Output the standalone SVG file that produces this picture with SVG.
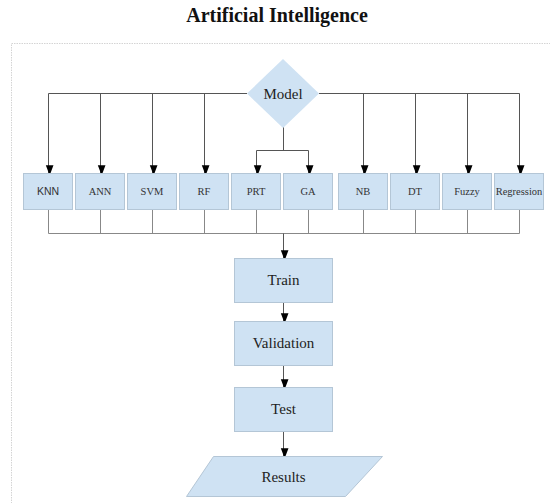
<svg xmlns="http://www.w3.org/2000/svg" width="550" height="503" viewBox="0 0 550 503">
<defs>
<marker id="ah" markerWidth="10" markerHeight="13" refX="10" refY="6.5" orient="auto" markerUnits="userSpaceOnUse" viewBox="0 0 13 10">
<path d="M0,0 L13,5 L0,10 Z" fill="#000"/>
</marker>
<style>
.frame{fill:none;stroke:#d4d4d4;stroke-width:1;stroke-dasharray:1.5 1}
.node{fill:#cfe2f3;stroke:#b4c6d6;stroke-width:1}
.top{fill:none;stroke:#555;stroke-width:1}
.bot{fill:none;stroke:#888;stroke-width:1}
.arr{marker-end:url(#ah)}
.lbl{font-size:10.5px;fill:#333;text-anchor:middle}
.big{font-size:15px;fill:#222;text-anchor:middle}
.title{font-size:20px;font-weight:bold;fill:#111;text-anchor:middle}
</style>
</defs>
<rect width="550" height="503" fill="#fff"/>
<rect class="frame" x="11.5" y="43.5" width="560" height="480"/>
<g font-family="Liberation Serif, Times New Roman, DejaVu Serif, serif">
<text class="title" x="277" y="22">Artificial Intelligence</text>

<g id="connectors">
<path class="top" d="M247,93.5 H48.5 M319,93.5 H519.5"/>
<path class="top arr" d="M48.5,93.5 V173"/>
<path class="top arr" d="M100.5,93.5 V173"/>
<path class="top arr" d="M152.5,93.5 V173"/>
<path class="top arr" d="M204.5,93.5 V173"/>
<path class="top arr" d="M363.5,93.5 V173"/>
<path class="top arr" d="M415.5,93.5 V173"/>
<path class="top arr" d="M467.5,93.5 V173"/>
<path class="top arr" d="M519.5,93.5 V173"/>
<path class="top" d="M283.5,127 V150.5 M256.5,150.5 H308.5"/>
<path class="top arr" d="M256.5,150.5 V173"/>
<path class="top arr" d="M308.5,150.5 V173"/>
<path class="bot" d="M48.5,209 V233.5 M100.5,209 V233.5 M152.5,209 V233.5 M204.5,209 V233.5 M256.5,209 V233.5 M308.5,209 V233.5 M363.5,209 V233.5 M415.5,209 V233.5 M467.5,209 V233.5 M519.5,209 V233.5 M48.5,233.5 H519.5"/>
<path class="top arr" d="M283.5,233.5 V258"/>
<path class="top arr" d="M283.5,302 V321"/>
<path class="top arr" d="M283.5,366 V387"/>
<path class="top arr" d="M283.5,432 V456"/>
</g>

<g id="model">
<polygon class="node" points="283,59 319,93.5 283,128 247,93.5" style="stroke:none"/>
<text class="big" x="283" y="99" font-size="16">Model</text>
</g>

<g id="knn"><rect class="node" x="23.5" y="173.5" width="49" height="36"/><text class="lbl" x="48" y="195" font-family="Liberation Sans, Arial, sans-serif">KNN</text></g>
<g id="ann"><rect class="node" x="75.5" y="173.5" width="49" height="36"/><text class="lbl" x="100" y="195">ANN</text></g>
<g id="svm"><rect class="node" x="127.5" y="173.5" width="49" height="36"/><text class="lbl" x="152" y="195">SVM</text></g>
<g id="rf"><rect class="node" x="179.5" y="173.5" width="49" height="36"/><text class="lbl" x="204" y="195">RF</text></g>
<g id="prt"><rect class="node" x="231.5" y="173.5" width="49" height="36"/><text class="lbl" x="256" y="195">PRT</text></g>
<g id="ga"><rect class="node" x="283.5" y="173.5" width="49" height="36"/><text class="lbl" x="308" y="195">GA</text></g>
<g id="nb"><rect class="node" x="338.5" y="173.5" width="49" height="36"/><text class="lbl" x="363" y="195">NB</text></g>
<g id="dt"><rect class="node" x="390.5" y="173.5" width="49" height="36"/><text class="lbl" x="415" y="195">DT</text></g>
<g id="fuzzy"><rect class="node" x="442.5" y="173.5" width="49" height="36"/><text class="lbl" x="467" y="195">Fuzzy</text></g>
<g id="regression"><rect class="node" x="494.5" y="173.5" width="49" height="36"/><text class="lbl" x="519" y="195">Regression</text></g>

<g id="train"><rect class="node" x="234.5" y="258.5" width="98" height="44"/><text class="big" x="283.5" y="285">Train</text></g>
<g id="validation"><rect class="node" x="234.5" y="321.5" width="98" height="44"/><text class="big" x="283.5" y="348">Validation</text></g>
<g id="test"><rect class="node" x="234.5" y="387.5" width="98" height="44"/><text class="big" x="283.5" y="414">Test</text></g>
<g id="results"><polygon class="node" points="213.5,456.5 382.5,456.5 345.5,496.5 186.5,496.5"/><text class="big" x="283.5" y="482" font-size="16">Results</text></g>
</g>
</svg>
